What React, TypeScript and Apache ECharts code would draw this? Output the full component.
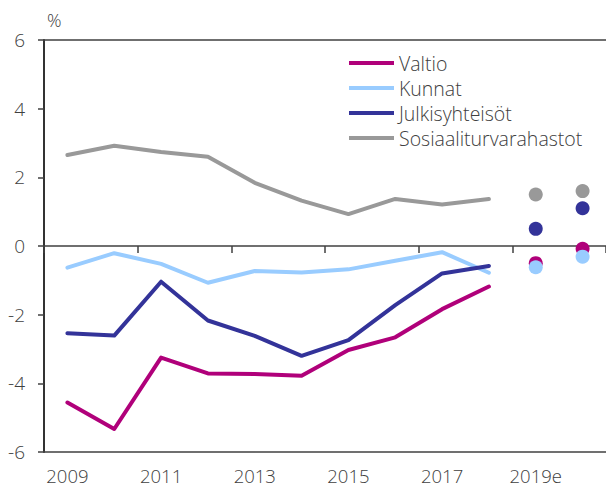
import React, { useEffect, useRef } from "react";
import * as echarts from "echarts";

const categories = ["2009", "2010", "2011", "2012", "2013", "2014", "2015", "2016", "2017", "2018", "2019e", "2020e"];
const forecastCats = ["2019e", "2020e"];

const seriesNames = ["Valtio", "Kunnat", "Julkisyhteisöt", "Sosiaaliturvarahastot"];
const seriesColors = ["#B0007A", "#99CCFF", "#333399", "#999999"];

const valtio = [-4.56, -5.33, -3.25, -3.71, -3.73, -3.78, -3.03, -2.66, -1.84, -1.18];
const kunnat = [-0.63, -0.21, -0.52, -1.07, -0.73, -0.77, -0.68, -0.43, -0.18, -0.78];
const julkis = [-2.54, -2.61, -1.04, -2.17, -2.62, -3.2, -2.74, -1.72, -0.8, -0.58];
const sosiaali = [2.65, 2.92, 2.74, 2.6, 1.84, 1.32, 0.93, 1.37, 1.21, 1.37];

const valtioF = [-0.5, -0.08];
const kunnatF = [-0.62, -0.31];
const julkisF = [0.5, 1.1];
const sosiaaliF = [1.5, 1.6];

const yTicks = { min: -6, max: 6, interval: 2 };

const FONT = "Open Sans";
const TEXT = "#404040";

export default function App() {
  const ref = useRef<HTMLDivElement>(null);
  useEffect(() => {
    if (!ref.current) return;
    const chart = echarts.init(ref.current, undefined, { renderer: "svg" });
    const lines = [valtio, kunnat, julkis, sosiaali];
    const fc = [valtioF, kunnatF, julkisF, sosiaaliF];
    const series: any[] = [];
    lines.forEach((d, i) => {
      series.push({
        name: seriesNames[i],
        type: "line",
        xAxisIndex: 0,
        data: d,
        symbol: "none",
        lineStyle: { width: 4, color: seriesColors[i], cap: "round", join: "round" },
        itemStyle: { color: seriesColors[i] },
        z: 3,
      });
    });
    fc.forEach((d, i) => {
      series.push({
        name: seriesNames[i] + " ennuste",
        type: "scatter",
        xAxisIndex: 0,
        data: d.map((v, j) => [forecastCats[j], v]),
        symbolSize: 14,
        itemStyle: { color: seriesColors[i], opacity: 1 },
        z: 4,
      });
    });
    chart.setOption({
      animation: false,
      grid: { left: 44, top: 40, width: 565, height: 412, containLabel: false },
      legend: {
        data: seriesNames,
        orient: "vertical",
        left: 344,
        top: 47,
        icon: "rect",
        itemWidth: 45,
        itemHeight: 4,
        itemGap: 3,
        textStyle: { fontFamily: FONT, fontWeight: 300, fontSize: 19.5, color: TEXT, lineHeight: 22 },
      },
      graphic: [
        {
          type: "text",
          left: 47,
          top: 11,
          style: { text: "%", fontFamily: FONT, fontWeight: 300, fontSize: 18, fill: TEXT },
        },
      ],
      xAxis: [
        {
          type: "category",
          data: categories,
          position: "bottom",
          boundaryGap: true,
          axisLine: { show: true, onZero: false, lineStyle: { color: "#404040", width: 1.5 } },
          axisTick: { show: false },
          axisLabel: {
            interval: 1,
            margin: 14,
            fontFamily: FONT,
            fontWeight: 300,
            fontSize: 18.5,
            lineHeight: 18,
            color: TEXT,
          },
          splitLine: { show: false },
        },
        {
          type: "category",
          data: categories,
          position: "bottom",
          boundaryGap: true,
          axisLine: { show: true, onZero: true, lineStyle: { color: "#404040", width: 1.5 } },
          axisTick: { show: true, interval: 1, length: 7, lineStyle: { color: "#404040", width: 1.5 } },
          axisLabel: { show: false },
          splitLine: { show: false },
        },
        {
          type: "category",
          data: categories,
          position: "top",
          axisLine: { show: true, onZero: false, lineStyle: { color: "#404040", width: 1.5 } },
          axisTick: { show: false },
          axisLabel: { show: false },
          splitLine: { show: false },
        },
      ],
      yAxis: {
        type: "value",
        min: yTicks.min,
        max: yTicks.max,
        interval: yTicks.interval,
        axisLine: { show: true, lineStyle: { color: "#333333", width: 2 } },
        axisTick: { show: true, length: 6, lineStyle: { color: "#404040", width: 1.5 } },
        axisLabel: {
          margin: 19,
          fontFamily: FONT,
          fontWeight: 300,
          fontSize: 19,
          color: TEXT,
        },
        splitLine: { show: false },
      },
      series,
    });
    return () => chart.dispose();
  }, []);
  return <div ref={ref} style={{ width: 606, height: 488, position: "absolute", left: 0, top: 0 }} />;
}
